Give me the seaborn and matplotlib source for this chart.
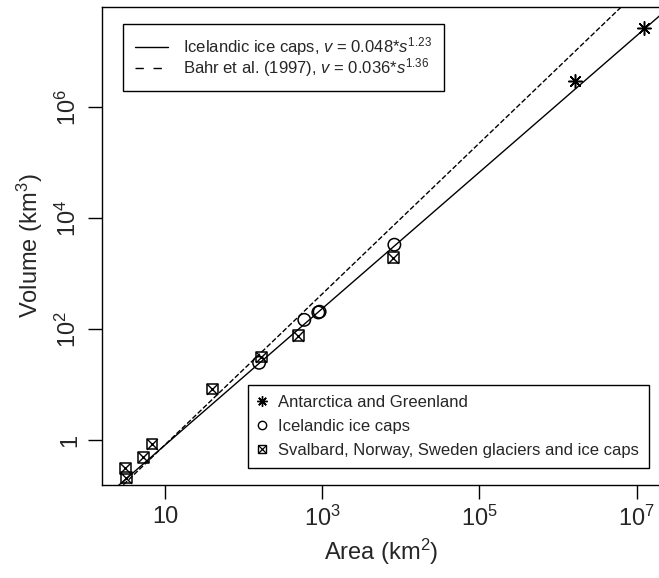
import matplotlib
matplotlib.use('Agg')
import matplotlib.pyplot as plt
import seaborn as sns
from matplotlib.lines import Line2D
from matplotlib.ticker import FixedLocator, FixedFormatter, NullLocator

# Antarctica and Greenland (km2, km3)
polar_area = [1.66e6, 1.23e7]
polar_volume = [2.95e6, 2.68e7]

# Icelandic ice caps
iceland_area = [157, 590, 890, 925, 8260]
iceland_volume = [24.7, 147, 200, 206, 3330]

# Svalbard, Norway, Sweden glaciers and ice caps
scand_area = [3.2, 3.1, 5.25, 6.8, 40, 167, 494, 8020]
scand_volume = [0.21, 0.31, 0.49, 0.85, 8.3, 31.6, 75.8, 1950]

# power law fits  v = c * s^b
fit_coef = [0.048, 0.036]
fit_exp = [1.23, 1.36]
fit_labels = [r'Icelandic ice caps, $v$ = 0.048*$s^{1.23}$',
              r'Bahr et al. (1997), $v$ = 0.036*$s^{1.36}$']

xticks = [10, 1e3, 1e5, 1e7]
xticklabels = ['10', '$10^3$', '$10^5$', '$10^7$']
yticks = [1, 1e2, 1e4, 1e6]
yticklabels = ['1', '$10^2$', '$10^4$', '$10^6$']

sns.set_style('ticks')
plt.rcParams['font.family'] = ['Liberation Sans', 'DejaVu Sans']
plt.rcParams['mathtext.fontset'] = 'custom'
plt.rcParams['mathtext.rm'] = 'Liberation Sans'
plt.rcParams['mathtext.it'] = 'Liberation Sans:italic'

fig = plt.figure(figsize=(6.59, 5.78), dpi=100)
ax = fig.add_axes([0.155, 0.161, 0.848, 0.827])
ax.set_xscale('log')
ax.set_yscale('log')
xlim = (1.58, 2.04e7)
ylim = (0.155, 6.46e7)

# fitted lines across the whole x range
x_ends = list(xlim)
for c, b, ls in zip(fit_coef, fit_exp, ['-', '--']):
    sns.lineplot(x=x_ends, y=[c * x ** b for x in x_ends], color='black',
                 lw=1.0, linestyle=ls, dashes=(7, 5) if ls == '--' else None,
                 ax=ax)

sns.scatterplot(x=polar_area, y=polar_volume, marker=(8, 2, 0), s=95,
                color='black', linewidth=1.1, ax=ax)
sns.scatterplot(x=iceland_area, y=iceland_volume, marker='o', s=80,
                color='black', facecolor='none', edgecolor='black',
                linewidth=1.1, ax=ax)
sns.scatterplot(x=scand_area, y=scand_volume, marker='s', s=60,
                color='black', facecolor='none', edgecolor='black',
                linewidth=1.1, ax=ax)
sns.scatterplot(x=scand_area, y=scand_volume, marker='x', s=60,
                color='black', linewidth=1.0, ax=ax)

ax.set_xlim(*xlim)
ax.set_ylim(*ylim)

ax.xaxis.set_major_locator(FixedLocator(xticks))
ax.xaxis.set_major_formatter(FixedFormatter(xticklabels))
ax.yaxis.set_major_locator(FixedLocator(yticks))
ax.yaxis.set_major_formatter(FixedFormatter(yticklabels))
ax.xaxis.set_minor_locator(NullLocator())
ax.yaxis.set_minor_locator(NullLocator())
ax.tick_params(direction='out', length=10, width=1.0, labelsize=17,
               color='black', pad=5)
for lab in ax.get_yticklabels():
    lab.set_rotation(90)
    lab.set_va('center')

for sp in ax.spines.values():
    sp.set_linewidth(1.0)
    sp.set_color('black')

ax.set_xlabel('Area (km$^2$)', fontsize=17, labelpad=4)
ax.set_ylabel('Volume (km$^3$)', fontsize=17, labelpad=8)

# legends
fit_handles = [Line2D([], [], color='black', lw=1.0, linestyle='-'),
               Line2D([], [], color='black', lw=1.0, dashes=(6, 7))]
leg1 = ax.legend(fit_handles, fit_labels, loc='upper left',
                 bbox_to_anchor=(0.0376, 0.965), borderaxespad=0,
                 fontsize=12, frameon=True, fancybox=False,
                 edgecolor='black', framealpha=1, handlelength=2.0,
                 labelspacing=-0.1, borderpad=0.7, handletextpad=0.9)
leg1.get_frame().set_linewidth(1.0)
ax.add_artist(leg1)

pt_handles = [
    Line2D([], [], color='black', marker=(8, 2, 0), ms=7.5, lw=0, mew=1.0),
    Line2D([], [], color='black', marker='o', ms=6, lw=0, mfc='none', mew=1.0),
    (Line2D([], [], color='black', marker='s', ms=6, lw=0, mfc='none', mew=1.0),
     Line2D([], [], color='black', marker='x', ms=6, lw=0, mew=0.9)),
]
pt_labels = ['Antarctica and Greenland', 'Icelandic ice caps',
             'Svalbard, Norway, Sweden glaciers and ice caps']
leg2 = ax.legend(pt_handles, pt_labels, loc='lower right',
                 bbox_to_anchor=(0.9785, 0.0356), borderaxespad=0,
                 fontsize=12, frameon=True, fancybox=False,
                 edgecolor='black', framealpha=1, handlelength=0.5,
                 labelspacing=0.55, borderpad=0.6, handletextpad=0.7)
leg2.get_frame().set_linewidth(1.0)

fig.savefig('out.png', dpi=100)
